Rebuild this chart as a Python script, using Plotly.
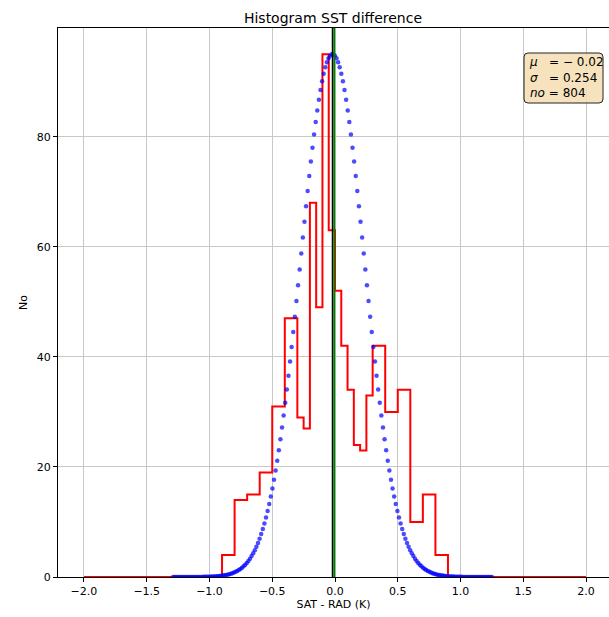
import numpy as np
import plotly.graph_objects as go

# ---- data ----
bin_edges = [-2.0, -0.9, -0.8, -0.7, -0.6, -0.5, -0.4, -0.3, -0.25, -0.2, -0.15, -0.1,
             -0.05, 0.0, 0.05, 0.1, 0.15, 0.2, 0.25, 0.3, 0.4, 0.5, 0.6, 0.7, 0.8, 0.9, 2.0]
bin_counts = [0, 4, 14, 15, 19, 31, 47, 29, 27, 68, 49, 95,
              63, 52, 42, 34, 24, 23, 33, 42, 30, 34, 10, 15, 4, 0]
mu = -0.02
sigma = 0.254
n_obs = 804
n_fit_points = 200
green_line_x = -0.006   # (green reference line just right of the mean)

x_tickvals = [-2.0, -1.5, -1.0, -0.5, 0.0, 0.5, 1.0, 1.5, 2.0]
x_ticktext = ["\u22122.0", "\u22121.5", "\u22121.0", "\u22120.5", "0.0", "0.5", "1.0", "1.5", "2.0"]
y_tickvals = [0, 20, 40, 60, 80]

# ---- layout geometry (pixels) ----
W, H = 609, 617
L, R, T, B = 58, 0, 28, 40
pw, ph = W - L - R, H - T - B

# Gaussian fit curve from displayed parameters
peak = max(bin_counts)
xf = np.linspace(mu - 5 * sigma, mu + 5 * sigma, n_fit_points)
yf = peak * np.exp(-0.5 * ((xf - mu) / sigma) ** 2)

fig = go.Figure()
fig.add_trace(go.Scatter(
    x=bin_edges, y=bin_counts + [bin_counts[-1]], mode="lines",
    line=dict(color="red", width=2, shape="hv"), showlegend=False, hoverinfo="skip"))
fig.add_trace(go.Scatter(
    x=xf, y=yf, mode="markers",
    marker=dict(color="rgba(0,0,255,0.7)", size=4.5, line=dict(width=0)),
    showlegend=False, hoverinfo="skip"))

# vertical lines: mean (black) and green reference line
fig.add_shape(type="line", xref="x", yref="paper", x0=mu, x1=mu, y0=0, y1=1,
              line=dict(color="black", width=1.5))
fig.add_shape(type="line", xref="x", yref="paper", x0=green_line_x, x1=green_line_x, y0=0, y1=1,
              line=dict(color="green", width=2))

# rounded stats box
def px2paper(px, py):
    return (px - L) / pw, (H - B - py) / ph

bx0, by0, bx1, by1, rr = 524, 53, 603, 103, 4
x0p, y1p = px2paper(bx0, by0)
x1p, y0p = px2paper(bx1, by1)
rx = rr / pw
ry = rr / ph
path = (f"M {x0p+rx},{y1p} L {x1p-rx},{y1p} Q {x1p},{y1p} {x1p},{y1p-ry} "
        f"L {x1p},{y0p+ry} Q {x1p},{y0p} {x1p-rx},{y0p} "
        f"L {x0p+rx},{y0p} Q {x0p},{y0p} {x0p},{y0p+ry} "
        f"L {x0p},{y1p-ry} Q {x0p},{y1p} {x0p+rx},{y1p} Z")
fig.add_shape(type="path", xref="paper", yref="paper", path=path,
              fillcolor="rgba(245,222,179,0.85)", line=dict(color="#222222", width=1))

nb = "\u00a0"
stats_text = (f"<i>\u03bc</i>{nb}{nb}{nb}={nb}\u2212{nb}{abs(mu):.2f}<br>"
              f"<i>\u03c3</i>{nb}{nb}{nb}={nb}{sigma:.3f}<br>"
              f"<i>no</i>{nb}={nb}{n_obs}")
tx, ty = px2paper(527, 78)
fig.add_annotation(xref="paper", yref="paper", x=tx, y=ty, xanchor="left", yanchor="middle",
                   text=stats_text, showarrow=False, align="left",
                   font=dict(family="DejaVu Sans", size=12, color="black"))

grid_col = "#c8c8c8"
fig.update_layout(
    width=W, height=H,
    margin=dict(l=L, r=R, t=T, b=B),
    paper_bgcolor="white", plot_bgcolor="white",
    font=dict(family="DejaVu Sans", size=11, color="black"),
    title=dict(text="Histogram SST difference", x=333 / W, xanchor="center",
               y=1 - 18 / H, yref="container", yanchor="middle",
               font=dict(family="DejaVu Sans", size=14, color="black")),
    xaxis=dict(range=[-2.207, 2.183], tickvals=x_tickvals, ticktext=x_ticktext,
               showgrid=True, gridcolor=grid_col, gridwidth=1,
               showline=True, linecolor="black", linewidth=1, mirror=True,
               ticks="outside", ticklen=4, tickcolor="black", zeroline=False,
               title=dict(text="SAT - RAD (K)", standoff=3, font=dict(size=11)),
               automargin=False),
    yaxis=dict(range=[0, 99.75], tickvals=y_tickvals,
               showgrid=True, gridcolor=grid_col, gridwidth=1,
               showline=True, linecolor="black", linewidth=1, mirror=False,
               ticks="outside", ticklen=4, tickcolor="black", zeroline=False,
               title=dict(text="No", standoff=6, font=dict(size=11)),
               automargin=False),
)

fig.write_html("out.html", config={"displayModeBar": False},
               post_script="document.body.style.margin='0';document.body.style.overflow='hidden';")
